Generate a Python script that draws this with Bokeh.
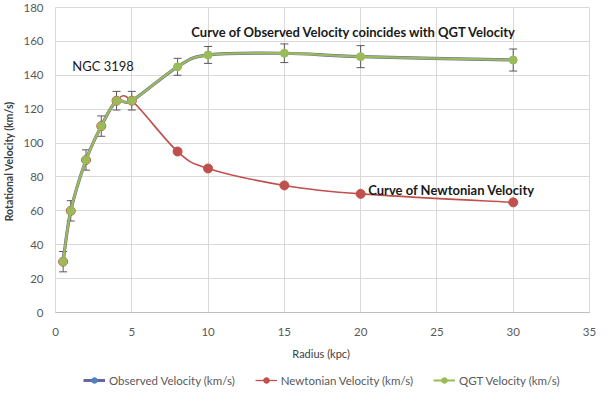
from bokeh.plotting import figure
from bokeh.layouts import column
from bokeh.models import (ColumnDataSource, Whisker, TeeHead, Legend, LegendItem,
                          FixedTicker, Range1d)
from bokeh.core.properties import value
from bokeh.embed import file_html
from bokeh.resources import INLINE

# ---- data ----
radius = [0.5, 1, 2, 3, 4, 5, 8, 10, 15, 20, 30]
observed = [30, 60, 90, 110, 125, 125, 145, 152, 153, 151, 149]
observed_err = [6, 6, 6, 6, 5.5, 5.5, 5, 5, 5.5, 6.5, 6.5]
newtonian = [30, 60, 90, 110, 125, 125, 95, 85, 75, 70, 65]
qgt = [30, 60, 90, 110, 125, 125, 145, 152, 153, 151, 149]
x_ticks = [0, 5, 10, 15, 20, 25, 30, 35]
y_ticks = [0, 20, 40, 60, 80, 100, 120, 140, 160, 180]

note_text = ["NGC 3198",
             "Curve of Observed Velocity coincides with QGT Velocity",
             "Curve of Newtonian Velocity"]
note_x = [1.1, 8.9, 20.5]
note_y = [145.5, 165.4, 72.5]
note_style = ["normal", "bold", "bold"]

FONT = "Lato"
OBS_LINE = "#6467A2"
OBS_MARK = "#4F81BD"
NEWT = "#C0504D"
QGT = "#9BBB59"


def smooth(xs, ys):
    """Excel-like smoothed line: cubic Bezier per segment (Catmull-Rom controls)."""
    n = len(xs)
    d = dict(x0=[], y0=[], x1=[], y1=[], cx0=[], cy0=[], cx1=[], cy1=[])
    for i in range(n - 1):
        a = i - 1 if i > 0 else i
        b = i + 2 if i + 2 < n else i + 1
        d["x0"].append(xs[i]); d["y0"].append(ys[i])
        d["x1"].append(xs[i + 1]); d["y1"].append(ys[i + 1])
        d["cx0"].append(xs[i] + (xs[i + 1] - xs[a]) / 6)
        d["cy0"].append(ys[i] + (ys[i + 1] - ys[a]) / 6)
        d["cx1"].append(xs[i + 1] - (xs[b] - xs[i]) / 6)
        d["cy1"].append(ys[i + 1] - (ys[b] - ys[i]) / 6)
    return ColumnDataSource(d)


p = figure(width=597, height=362, output_backend="svg", toolbar_location=None,
           x_range=Range1d(0, 35), y_range=Range1d(0, 180),
           min_border_left=10, min_border_right=8, min_border_top=7, min_border_bottom=40)
p.outline_line_color = "#D9D9D9"

for ax in (p.xaxis[0], p.yaxis[0]):
    ax.major_tick_line_color = None
    ax.minor_tick_line_color = None
    ax.major_label_text_font = FONT
    ax.major_label_text_font_size = "11.5px"
    ax.major_label_text_color = "#595959"
    ax.axis_label_text_font = FONT
    ax.axis_label_text_color = "#404040"
p.xaxis.ticker = FixedTicker(ticks=x_ticks)
p.yaxis.ticker = FixedTicker(ticks=y_ticks)
p.xaxis.axis_line_color = "#BFBFBF"
p.yaxis.axis_line_color = None
p.xaxis.axis_label = "Radius  (kpc)"
p.xaxis.axis_label_text_font_size = "11px"
p.xaxis.axis_label_text_font_style = "normal"
p.xaxis.axis_label_standoff = 8
p.xaxis.major_label_standoff = 9
p.yaxis.axis_label = "Rotational Velocity  (km/s)"
p.yaxis.axis_label_text_font_size = "10.5px"
p.yaxis.axis_label_text_font_style = "bold"
p.yaxis.axis_label_standoff = 5
p.yaxis.major_label_standoff = 6
p.xgrid.ticker = FixedTicker(ticks=x_ticks)
p.ygrid.ticker = FixedTicker(ticks=y_ticks)
p.xgrid.grid_line_color = "#D9D9D9"
p.ygrid.grid_line_color = "#D9D9D9"

# error bars on observed
err_src = ColumnDataSource(dict(
    x=radius,
    lo=[v - e for v, e in zip(observed, observed_err)],
    hi=[v + e for v, e in zip(observed, observed_err)],
))
w = Whisker(source=err_src, base="x", lower="lo", upper="hi", dimension="height",
            line_color="#595959", line_width=1,
            upper_head=TeeHead(size=8, line_color="#595959", line_width=1),
            lower_head=TeeHead(size=8, line_color="#595959", line_width=1))
p.add_layout(w)

# observed (under)
p.bezier(source=smooth(radius, observed), x0="x0", y0="y0", x1="x1", y1="y1",
         cx0="cx0", cy0="cy0", cx1="cx1", cy1="cy1",
         line_color=OBS_LINE, line_width=3.2)
p.scatter(radius, observed, size=7, color=OBS_MARK)

# newtonian
p.bezier(source=smooth(radius, newtonian), x0="x0", y0="y0", x1="x1", y1="y1",
         cx0="cx0", cy0="cy0", cx1="cx1", cy1="cy1",
         line_color=NEWT, line_width=1.6)
p.scatter(radius, newtonian, size=9, color=NEWT)

# QGT (on top)
p.bezier(source=smooth(radius, qgt), x0="x0", y0="y0", x1="x1", y1="y1",
         cx0="cx0", cy0="cy0", cx1="cx1", cy1="cy1",
         line_color=QGT, line_width=2.3)
p.scatter(radius, qgt, size=8, color=QGT)

# annotations
p.text(x=note_x, y=note_y, text=note_text, text_font=value(FONT),
       text_font_size="13px", text_font_style=note_style,
       text_color="#1a1a1a", text_baseline="middle", text_align="left")

# ---- legend strip (series drawn out of view; only the legend shows) ----
q = figure(width=597, height=29, output_backend="svg", toolbar_location=None,
           x_range=Range1d(1000, 1001), y_range=Range1d(1000, 1001),
           x_axis_type=None, y_axis_type=None, min_border=0)
q.outline_line_color = None
q.xgrid.visible = False
q.ygrid.visible = False
lo_l = q.line(radius, observed, line_color=OBS_LINE, line_width=3)
lo_m = q.scatter(radius, observed, size=7, color=OBS_MARK)
ln_l = q.line(radius, newtonian, line_color=NEWT, line_width=1.3)
ln_m = q.scatter(radius, newtonian, size=7, color=NEWT)
lq_l = q.line(radius, qgt, line_color=QGT, line_width=2)
lq_m = q.scatter(radius, qgt, size=7, color=QGT)

legend = Legend(items=[
    LegendItem(label="Observed Velocity (km/s)", renderers=[lo_l, lo_m]),
    LegendItem(label="Newtonian Velocity (km/s)", renderers=[ln_l, ln_m]),
    LegendItem(label="QGT Velocity (km/s)", renderers=[lq_l, lq_m]),
], orientation="horizontal", location=(28, 4),
    label_text_font=FONT, label_text_font_size="11.5px", label_text_color="#595959",
    glyph_width=22, glyph_height=14, label_height=14, spacing=20, label_standoff=4,
    border_line_color=None, background_fill_alpha=0, padding=0, margin=0)
q.add_layout(legend)

layout = column(p, q, spacing=0)
open("out.html", "w").write(file_html(layout, INLINE))
